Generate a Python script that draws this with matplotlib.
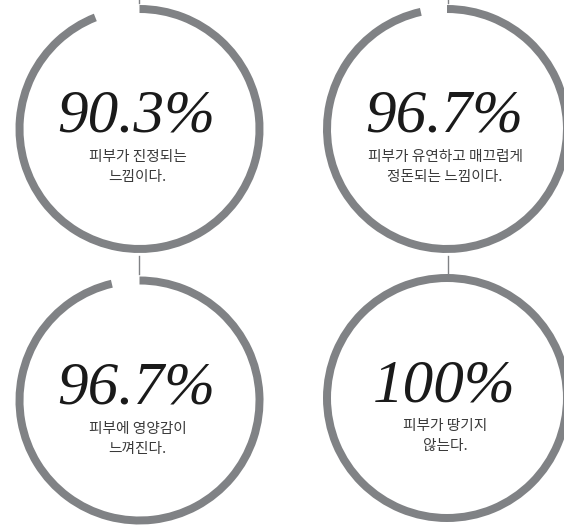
import matplotlib
matplotlib.use("Agg")
import matplotlib.pyplot as plt
from matplotlib.patches import Wedge

# values shown on the four rings
labels = ["90.3%", "96.7%", "96.7%", "100%"]
# share of each ring that is drawn
fills = [0.940, 0.965, 0.963, 1.0]
texts = ["피부가 진정되는\n느낌이다.",
         "피부가 유연하고 매끄럽게\n정돈되는 느낌이다.",
         "피부에 영양감이\n느껴진다.",
         "피부가 땅기지\n않는다."]

ring_col = "#808285"
centers = [(139.5, 129), (447, 129), (139.5, 400.5), (447, 398)]
r_out = 124
ring_w = 8

fig = plt.figure(figsize=(5.64, 5.26), dpi=100)
ax = fig.add_axes([0, 0, 1, 1])
ax.set_xlim(0, 564)
ax.set_ylim(526, 0)
ax.axis("off")

for (cx, cy), lab, f, t in zip(centers, labels, fills, texts):
    # y axis is flipped, so growing theta runs clockwise on screen
    ax.add_patch(Wedge((cx, cy), r_out, -90, -90 + 360 * f, width=ring_w,
                       facecolor=ring_col, edgecolor="none"))
    ax.text(cx - 3, cy + 3, lab, ha="center", va="baseline", fontsize=44,
            family="Liberation Serif", style="italic", color="#1a1a1a")
    for i, line in enumerate(t.split("\n")):
        ax.text(cx - 2, cy + 28 + i * 20, line, ha="center", va="center",
                fontsize=10.6, family=["Noto Sans CJK KR", "DejaVu Sans"],
                color="#3a3a3a")

# thin connectors between the rings
for cx in (139, 448):
    ax.plot([cx, cx], [0, 3], color=ring_col, lw=1)
    ax.plot([cx, cx], [256, 274], color=ring_col, lw=1)

fig.savefig("out.png", dpi=100)
